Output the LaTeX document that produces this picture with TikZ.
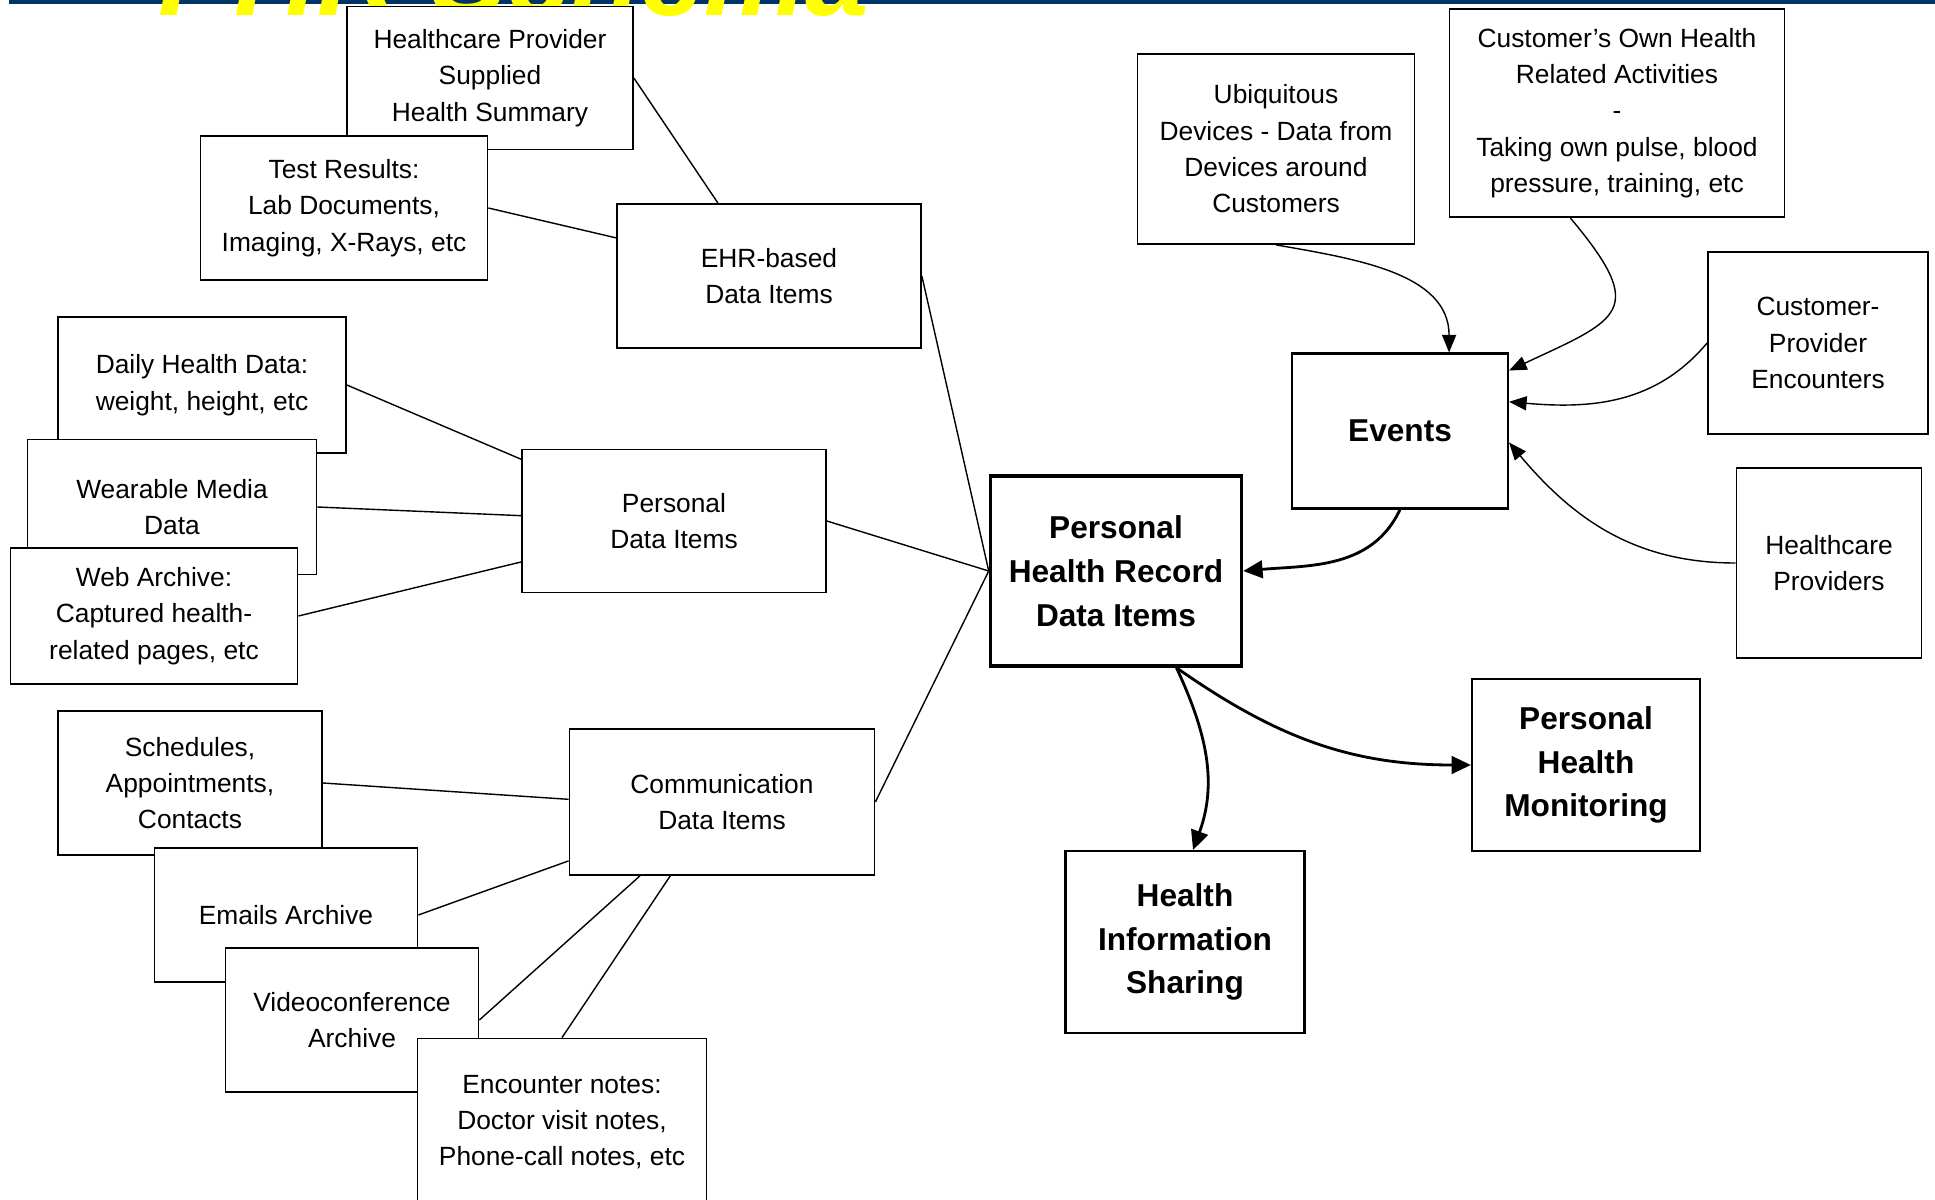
\documentclass[tikz,border=0pt]{standalone}
\usepackage{fontspec}
\setmainfont{Liberation Sans}
\usetikzlibrary{arrows.meta}

\definecolor{slidenavy}{RGB}{0,51,102}
\definecolor{slideyellow}{RGB}{255,255,0}

\tikzset{
  item/.style={draw, fill=white, line width=1.0pt, align=center, inner sep=0pt,
    font=\fontsize{15}{20.7}\selectfont},
  keyitem/.style={item, line width=1.2pt, font=\fontsize{18}{24.9}\selectfont\bfseries},
  link/.style={line width=0.8pt},
  flow/.style={line width=0.8pt, -{Triangle[length=10pt,width=8pt]}},
  mainflow/.style={line width=1.6pt, -{Triangle[length=11pt,width=10pt]}},
}

\begin{document}
\begin{tikzpicture}[scale=0.2]
\useasboundingbox (0,0) rectangle (193.5,-119.9);
\clip (0,0) rectangle (193.5,-119.9);
% what is left of the slide header
\fill[slidenavy] (0.9,0) rectangle (193.5,-0.35);
\node[anchor=base west, text=slideyellow, inner sep=0pt,
  font=\fontsize{65}{70}\selectfont\bfseries\itshape] (title) at (15.8,-1.5) {PHR Schema};
% data sources, left side
\node[item, minimum width=5.72cm, minimum height=2.86cm] (hp) at (49.0,-7.8) {Healthcare Provider\\Supplied\\Health Summary};
\node[item, minimum width=5.74cm, minimum height=2.88cm] (tr) at (34.4,-20.8) {Test Results:\\Lab Documents,\\Imaging, X-Rays, etc};
\node[item, minimum width=6.08cm, minimum height=2.88cm] (ehr) at (76.9,-27.6) {EHR-based\\Data Items};
\node[item, minimum width=5.76cm, minimum height=2.72cm] (daily) at (20.2,-38.5) {Daily Health Data:\\weight, height, etc};
\node[item, minimum width=5.78cm, minimum height=2.70cm] (wear) at (17.2,-50.7) {Wearable Media\\Data};
\node[item, minimum width=5.74cm, minimum height=2.72cm] (web) at (15.4,-61.6) {Web Archive:\\Captured health-\\related pages, etc};
\node[item, minimum width=6.08cm, minimum height=2.86cm] (pdi) at (67.4,-52.1) {Personal\\Data Items};
\node[item, minimum width=5.28cm, minimum height=2.88cm] (sched) at (19.0,-78.3) {Schedules,\\Appointments,\\Contacts};
\node[item, minimum width=5.26cm, minimum height=2.68cm] (email) at (28.6,-91.5) {Emails Archive};
\node[item, minimum width=5.06cm, minimum height=2.88cm] (video) at (35.2,-102.0) {Videoconference\\Archive};
\node[item, minimum width=5.78cm, minimum height=3.34cm] (enc) at (56.2,-112.2) {Encounter notes:\\Doctor visit notes,\\Phone-call notes, etc};
\node[item, minimum width=6.10cm, minimum height=2.92cm] (comm) at (72.2,-80.2) {Communication\\Data Items};
% centre
\node[keyitem, line width=2pt, minimum width=5.02cm, minimum height=3.80cm] (phr) at (111.6,-57.1) {Personal\\Health Record\\Data Items};
\node[keyitem, minimum width=4.32cm, minimum height=3.10cm] (events) at (140.0,-43.1) {Events};
% event sources, right side
\node[item, minimum width=5.54cm, minimum height=3.80cm] (ubiq) at (127.6,-14.9) {Ubiquitous\\Devices - Data from\\Devices around\\Customers};
\node[item, minimum width=6.70cm, minimum height=4.16cm] (own) at (161.7,-11.3) {Customer's Own Health\\Related Activities\\-\\Taking own pulse, blood\\pressure, training, etc};
\node[item, minimum width=4.40cm, minimum height=3.64cm] (cpe) at (181.8,-34.3) {Customer-\\Provider\\Encounters};
\node[item, minimum width=3.70cm, minimum height=3.80cm] (hcp) at (182.9,-56.3) {Healthcare\\Providers};
% uses
\node[keyitem, minimum width=4.56cm, minimum height=3.44cm] (phm) at (158.6,-76.5) {Personal\\Health\\Monitoring};
\node[keyitem, minimum width=4.78cm, minimum height=3.64cm] (his) at (118.5,-94.2) {Health\\Information\\Sharing};
% plain links
\draw[link] (hp.east) -- (ehr.125);
\draw[link] (tr.east) -- (ehr.166);
\draw[link] (ehr.east) -- (phr.west);
\draw[link] (daily.east) -- (pdi.158);
\draw[link] (wear.east) -- (pdi.178);
\draw[link] (web.east) -- (pdi.195);
\draw[link] (pdi.east) -- (phr.west);
\draw[link] (sched.east) -- (comm.179);
\draw[link] (email.east) -- (comm.201);
\draw[link] (video.east) -- (comm.222);
\draw[link] (enc.north) -- (comm.235);
\draw[link] (comm.east) -- (phr.west);
% arrows into events
\draw[flow] (ubiq.south) to[out=-10, in=90] (events.58);
\draw[flow] (own.246) to[out=-50, in=25, looseness=1.9] (events.29);
\draw[flow] (cpe.west) to[out=230, in=-5] (events.15);
\draw[flow] (hcp.west) to[out=180, in=-50] (events.354);
% arrows out of the record
\draw[mainflow] (events.south) to[out=-115, in=5] (phr.east);
\draw[mainflow] (phr.302) to[out=-65, in=70] (his.85);
\draw[mainflow] (phr.302) to[out=-35, in=180] (phm.west);
\end{tikzpicture}
\end{document}
